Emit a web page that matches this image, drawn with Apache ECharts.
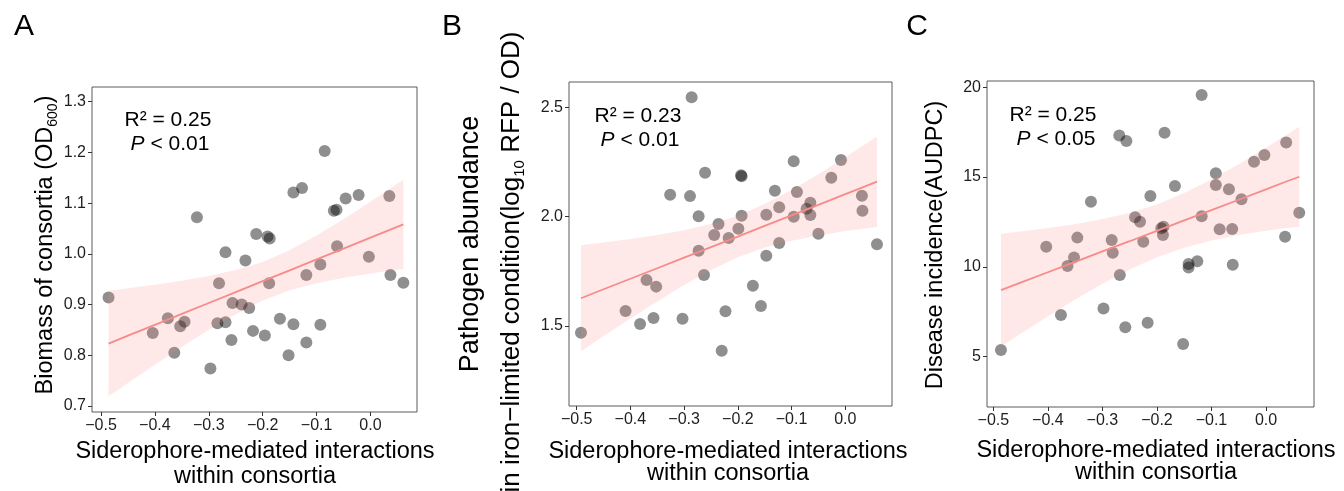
<!DOCTYPE html>
<html><head><meta charset="utf-8">
<script src="https://cdn.jsdelivr.net/npm/echarts@6/dist/echarts.min.js"></script>
<style>html,body{margin:0;padding:0;background:#fff}#c{width:1344px;height:491px}</style>
</head><body><div id="c"></div>
<script>
// ---- tick labels ----
const xTicks = [-0.5,-0.4,-0.3,-0.2,-0.1,0.0];
const yTicksA = [0.7,0.8,0.9,1.0,1.1,1.2,1.3];
const yTicksB = [1.5,2.0,2.5];
const yTicksC = [5,10,15,20];

// ---- Panel A: biomass ----
const sidA = [-0.486,-0.404,-0.376,-0.364,-0.353,-0.345,-0.322,-0.297,-0.284,-0.281,-0.269,-0.269,-0.258,-0.256,-0.239,-0.232,-0.225,-0.218,-0.212,-0.196,-0.191,-0.187,-0.188,-0.168,-0.152,-0.143,-0.143,-0.127,-0.119,-0.119,-0.093,-0.093,-0.085,-0.068,-0.063,-0.062,-0.046,-0.022,-0.003,0.035,0.037,0.061];
const biomassA = [0.914,0.844,0.873,0.805,0.857,0.866,1.072,0.774,0.863,0.942,0.865,1.003,0.830,0.903,0.900,0.987,0.893,0.848,1.039,0.839,1.034,1.030,0.942,0.872,0.800,1.121,0.861,1.130,0.958,0.825,0.979,0.860,1.203,1.085,1.087,1.015,1.109,1.116,0.994,1.114,0.958,0.943];
const fitXA = [-0.486,-0.45,-0.4,-0.35,-0.3,-0.25,-0.2,-0.15,-0.1,-0.05,0,0.03,0.061];
const fitA = [0.823,0.8385,0.860,0.8814,0.903,0.9244,0.946,0.9673,0.989,1.0103,1.032,1.0447,1.058];
const upperA = [0.927,0.932,0.939,0.947,0.956,0.968,0.984,1.007,1.036,1.068,1.103,1.124,1.146];
const lowerA = [0.719,0.745,0.781,0.816,0.850,0.881,0.908,0.928,0.942,0.953,0.961,0.966,0.970];

// ---- Panel B: pathogen abundance ----
const sidB = [-0.492,-0.409,-0.382,-0.370,-0.357,-0.352,-0.326,-0.303,-0.289,-0.286,-0.273,-0.273,-0.263,-0.261,-0.244,-0.236,-0.230,-0.223,-0.217,-0.199,-0.194,-0.193,-0.193,-0.172,-0.157,-0.147,-0.147,-0.131,-0.123,-0.123,-0.096,-0.096,-0.090,-0.072,-0.065,-0.065,-0.050,-0.026,-0.008,0.031,0.032,0.059];
const pathogenB = [1.469,1.569,1.509,1.710,1.537,1.680,2.100,1.533,2.094,2.546,2.002,1.844,1.733,2.201,1.916,1.966,1.387,1.567,1.902,1.945,2.190,2.185,2.004,1.684,1.591,2.009,1.821,2.119,2.043,1.880,2.253,2.000,2.113,2.036,2.064,2.008,1.922,2.178,2.259,2.096,2.027,1.874];
const fitXB = [-0.492,-0.45,-0.4,-0.35,-0.3,-0.25,-0.2,-0.15,-0.1,-0.05,0,0.03,0.059];
const fitB = [1.627,1.668,1.716,1.764,1.813,1.861,1.909,1.958,2.006,2.054,2.103,2.132,2.160];
const upperB = [1.869,1.882,1.898,1.916,1.938,1.966,2.004,2.058,2.122,2.194,2.272,2.320,2.367];
const lowerB = [1.385,1.454,1.534,1.612,1.688,1.756,1.814,1.859,1.890,1.914,1.934,1.944,1.953];

// ---- Panel C: disease incidence ----
const sidC = [-0.486,-0.403,-0.376,-0.364,-0.352,-0.346,-0.321,-0.298,-0.283,-0.281,-0.269,-0.268,-0.258,-0.256,-0.240,-0.231,-0.225,-0.217,-0.212,-0.192,-0.188,-0.189,-0.186,-0.167,-0.152,-0.142,-0.142,-0.126,-0.118,-0.118,-0.092,-0.092,-0.085,-0.068,-0.062,-0.061,-0.045,-0.022,-0.003,0.035,0.037,0.061];
const diseaseC = [5.37,11.12,7.32,10.05,10.53,11.63,13.63,7.69,11.50,10.79,17.31,9.55,6.64,17.01,12.76,12.52,11.40,6.89,13.95,12.15,12.24,11.78,17.47,14.50,5.71,10.16,9.96,10.31,12.82,19.57,15.21,14.56,12.09,14.32,12.11,10.12,13.76,15.86,16.23,11.68,16.92,13.02];
const fitXC = [-0.486,-0.45,-0.4,-0.35,-0.3,-0.25,-0.2,-0.15,-0.1,-0.05,0,0.03,0.061];
const fitC = [8.71,9.125,9.702,10.28,10.86,11.43,12.01,12.59,13.16,13.74,14.32,14.67,15.02];
const upperC = [11.85,11.97,12.16,12.38,12.66,13.00,13.48,14.11,14.86,15.71,16.63,17.20,17.80];
const lowerC = [5.57,6.28,7.24,8.18,9.06,9.86,10.54,11.07,11.47,11.77,12.01,12.14,12.24];

const FONT = '"Liberation Sans", Arial, Helvetica, sans-serif';
const zip = (a, b) => a.map((v, i) => [v, b[i]]);
const fmtX = v => (v < 0 ? '\u2212' : '') + Math.abs(v).toFixed(1);

const panels = [
  {grid:{left:92, top:87, width:325, height:325}, xmin:-0.5167, xmax:0.0863, ymin:0.688, ymax:1.329, yt:yTicksA, yfmt:v=>v.toFixed(1),
   x:sidA, y:biomassA, fx:fitXA, fy:fitA, up:upperA, lo:lowerA},
  {grid:{left:569, top:82, width:323, height:324}, xmin:-0.5143, xmax:0.087, ymin:1.134, ymax:2.616, yt:yTicksB, yfmt:v=>v.toFixed(1),
   x:sidB, y:pathogenB, fx:fitXB, fy:fitB, up:upperB, lo:lowerB},
  {grid:{left:987, top:81, width:327, height:326}, xmin:-0.5116, xmax:0.088, ymin:2.2, ymax:20.35, yt:yTicksC, yfmt:v=>String(v),
   x:sidC, y:diseaseC, fx:fitXC, fy:fitC, up:upperC, lo:lowerC}
];

const grids = [], xAxes = [], yAxes = [], series = [];
panels.forEach((p, i) => {
  grids.push(Object.assign({show:true, borderColor:'#5a5a5a', borderWidth:1, backgroundColor:'#fff'}, p.grid));
  xAxes.push({type:'value', gridIndex:i, min:p.xmin, max:p.xmax, splitLine:{show:false}, position:'bottom',
    axisLine:{show:false, onZero:false}, axisTick:{show:true, length:4, lineStyle:{color:'#333'}, customValues:xTicks},
    axisLabel:{show:true, customValues:xTicks, formatter:fmtX, color:'#1e1e1e', fontSize:16, fontFamily:FONT, margin:6}});
  yAxes.push({type:'value', gridIndex:i, min:p.ymin, max:p.ymax, splitLine:{show:false}, position:'left',
    axisLine:{show:false, onZero:false}, axisTick:{show:true, length:4, lineStyle:{color:'#333'}, customValues:p.yt},
    axisLabel:{show:true, customValues:p.yt, formatter:p.yfmt, color:'#1e1e1e', fontSize:16, fontFamily:FONT, margin:6}});
  series.push({type:'scatter', xAxisIndex:i, yAxisIndex:i, data:zip(p.x, p.y), symbolSize:12,
    itemStyle:{color:'rgba(0,0,0,0.55)'}, z:2, silent:true});
  const band = p.fx.map((v, k) => [v, p.lo[k], p.up[k]]);
  series.push({type:'custom', xAxisIndex:i, yAxisIndex:i, data:[band[0]], z:3, silent:true, clip:true,
    renderItem:(params, api) => {
      const pts = [];
      band.forEach(r => pts.push(api.coord([r[0], r[2]])));
      for (let k = band.length - 1; k >= 0; k--) pts.push(api.coord([band[k][0], band[k][1]]));
      return {type:'polygon', shape:{points:pts}, style:{fill:'rgba(250,128,128,0.18)'}};
    }});
  series.push({type:'line', xAxisIndex:i, yAxisIndex:i, data:zip(p.fx, p.fy), showSymbol:false, symbol:'none',
    lineStyle:{color:'#f88a8a', width:1.8}, z:4, silent:true});
});

const T = (x, y, text, size, extra) => ({type:'text', x:x, y:y, style:Object.assign({text:text, fontSize:size, fontFamily:FONT, fill:'#000', align:'center', verticalAlign:'middle'}, extra||{})});
const italic = {rich:{i:{fontStyle:'italic', fontSize:21, fontFamily:FONT}}};
const graphic = [
  T(24, 27, 'A', 30), T(452, 27, 'B', 30), T(917, 27, 'C', 30),
  // stats
  T(168, 120, 'R\u00b2 = 0.25', 21), T(170, 144, '{i|P} < 0.01', 21, italic),
  T(638, 116, 'R\u00b2 = 0.23', 21), T(640, 140, '{i|P} < 0.01', 21, italic),
  T(1053, 115, 'R\u00b2 = 0.25', 21), T(1056, 139, '{i|P} < 0.05', 21, italic),
  // x titles
  T(255, 452, 'Siderophore-mediated interactions', 23.5), T(255, 477, 'within consortia', 23.5),
  T(728, 452, 'Siderophore-mediated interactions', 23.5), T(728, 474, 'within consortia', 23.5),
  T(1156, 451, 'Siderophore-mediated interactions', 23.5), T(1156, 473, 'within consortia', 23.5),
];
// y titles (rotated)
const R = (x, y, text, size, rich) => ({type:'text', x:x, y:y, rotation:Math.PI/2,
  style:{text:text, fontSize:size, fontFamily:FONT, fill:'#000', align:'center', verticalAlign:'middle', rich:rich||{}}});
graphic.push(R(46, 245, '{m|Biomass of consortia (OD}{s|600}{m|)}', 23.5,
  {m:{fontSize:23.5, fontFamily:FONT, lineHeight:28, verticalAlign:'middle'}, s:{fontSize:14, fontFamily:FONT, lineHeight:14, verticalAlign:'bottom'}}));
graphic.push(R(471, 244, 'Pathogen abundance', 27));
graphic.push(R(512, 262, '{m|in iron\u2212limited condition(log}{s|10}{m| RFP / OD)}', 26,
  {m:{fontSize:26, fontFamily:FONT, lineHeight:31, verticalAlign:'middle'}, s:{fontSize:15, fontFamily:FONT, lineHeight:15, verticalAlign:'bottom'}}));
graphic.push(R(936, 245, 'Disease incidence(AUDPC)', 23.5));

const chart = echarts.init(document.getElementById('c'), null, {renderer:'canvas'});
chart.setOption({animation:false, grid:grids, xAxis:xAxes, yAxis:yAxes, series:series, graphic:graphic});
</script></body></html>
